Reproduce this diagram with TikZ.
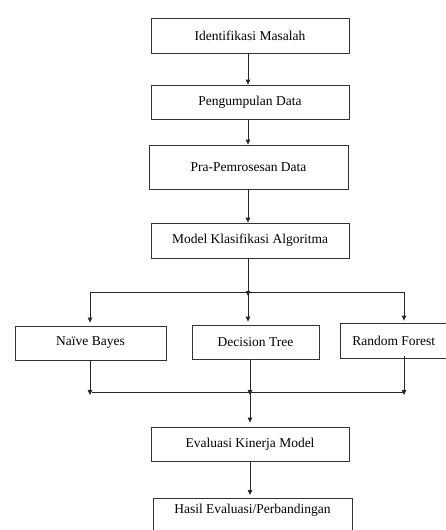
\documentclass[tikz,border=0pt]{standalone}
\usepackage{fontspec}
\setmainfont{Liberation Serif}
\usetikzlibrary{arrows.meta}
\begin{document}
\begin{tikzpicture}[x=1pt,y=-1pt,every node/.style={font=\fontsize{13.5}{16}\selectfont,text=black},
	kotak/.style={draw=black!80,line width=.8pt,rectangle,inner sep=0pt,minimum height=34pt},
	garis/.style={draw=black!85,line width=.8pt},
	panah/.style={garis,-{Triangle[length=5pt,width=4.5pt]}}]
		\useasboundingbox(0,0)rectangle(446,530);
		\clip(0,0)rectangle(446,530);
		% sumbu tegak
		\coordinate(S)at(248,0);
		\coordinate(S2)at(250,0);
		\coordinate(NB)at(90,0);
		\coordinate(RF)at(404,0);
		\coordinate(C1)at(0,292);
		\coordinate(C2)at(0,392);
		% kotak
		\node[kotak,minimum width=198pt,minimum height=35pt](identifikasi)at(250,35.5){Identifikasi Masalah};
		\node[kotak,minimum width=198pt](pengumpulan)at(250,102){Pengumpulan Data};
		\node[kotak,minimum width=199pt,minimum height=44pt](pra)at(248.5,167){Pra-Pemrosesan Data};
		\node[kotak,minimum width=198pt,minimum height=35pt](model)at(250,240.5){Model Klasifikasi Algoritma};
		\node[kotak,minimum width=151pt](naive)at(90.5,343){Naïve Bayes};
		\node[kotak,minimum width=127pt](tree)at(255.5,342){Decision Tree};
		\node[kotak,minimum width=106.5pt,minimum height=35pt](forest)at(393.75,340.5){Random Forest};
		\node[kotak,minimum width=198pt](evaluasi)at(250,444){Evaluasi Kinerja Model};
		\node[kotak,minimum width=199pt,minimum height=50pt,anchor=north,
			label={[anchor=north,yshift=-3pt]north:Hasil Evaluasi/Perbandingan}](hasil)at(252.5,498){};
		% panah utama
		\draw[panah](identifikasi.south-|S)--(pengumpulan.north-|S);
		\draw[panah](pengumpulan.south-|S)--(pra.north-|S);
		\draw[panah](pra.south-|S)--(model.north-|S);
		\draw[panah](model.south-|S)--([yshift=-4pt]C1-|S);
		% cabang
		\draw[garis](C1-|NB)--(C1-|RF);
		\draw[panah](C1-|NB)--([yshift=3pt]naive.north-|NB);
		\draw[panah](C1-|S)--([yshift=3pt]tree.north-|S);
		\draw[panah](C1-|RF)--([yshift=2pt]forest.north-|RF);
		% gabung
		\draw[panah](naive.south-|NB)--([yshift=-3pt]C2-|NB);
		\draw[panah](tree.south-|S2)--([yshift=-3pt]C2-|S2);
		\draw[panah]([yshift=2pt]forest.south-|RF)--([yshift=-3pt]C2-|RF);
		\draw[garis]([xshift=2pt]C2-|NB)--(C2-|RF);
		\draw[panah](C2-|S2)--([yshift=4pt]evaluasi.north-|S2);
		\draw[panah](evaluasi.south-|S2)--([yshift=3pt]hasil.north-|S2);
\end{tikzpicture}
\end{document}
